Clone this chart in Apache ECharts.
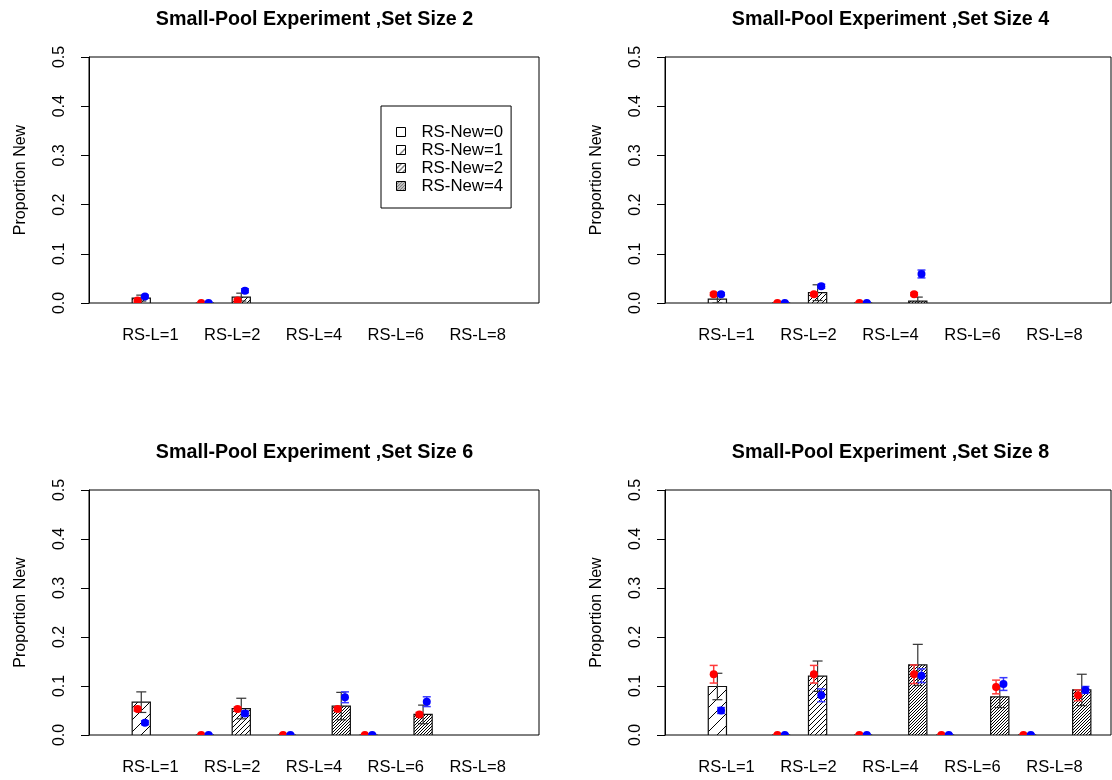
<!DOCTYPE html>
<html><head><meta charset="utf-8">
<script src="https://cdn.jsdelivr.net/npm/echarts@6/dist/echarts.min.js"></script>
<style>html,body{margin:0;padding:0;background:#fff}#c{width:1112px;height:780px}</style>
</head><body><div id="c"></div><script>
// ---------- data ----------
const categories = ['RS-L=1', 'RS-L=2', 'RS-L=4', 'RS-L=6', 'RS-L=8'];
const newLevels = ['RS-New=0', 'RS-New=1', 'RS-New=2', 'RS-New=4'];
const setSizes = [2, 4, 6, 8];
const yTicks = [0, 0.1, 0.2, 0.3, 0.4, 0.5];

// Set size 2  (lag = RS-L category index, 1-based; nw = RS-New level index)
const lag2 = [1, 2, 2];
const nw2 = [1, 0, 2];
const bar2 = [0.010, 0, 0.012];
const barErr2 = [0.006, 0, 0.008];
const red2 = [0.005, 0, 0.005];
const redErr2 = [0.003, 0.002, 0.003];
const blue2 = [0.013, 0, 0.025];
const blueErr2 = [0.003, 0.002, 0.004];

// Set size 4
const lag4 = [1, 2, 2, 3, 3];
const nw4 = [1, 0, 2, 0, 3];
const bar4 = [0.008, 0, 0.021, 0, 0.004];
const barErr4 = [0.008, 0, 0.016, 0, 0.008];
const red4 = [0.018, 0, 0.018, 0, 0.018];
const redErr4 = [0.003, 0.002, 0.003, 0.002, 0.003];
const blue4 = [0.018, 0, 0.034, 0, 0.059];
const blueErr4 = [0.003, 0.002, 0.004, 0.002, 0.008];

// Set size 6
const lag6 = [1, 2, 2, 3, 3, 4, 4];
const nw6 = [1, 0, 2, 0, 3, 0, 3];
const bar6 = [0.067, 0, 0.054, 0, 0.059, 0, 0.042];
const barErr6 = [0.021, 0, 0.021, 0, 0.028, 0, 0.019];
const red6 = [0.053, 0, 0.053, 0, 0.053, 0, 0.042];
const redErr6 = [0.004, 0.002, 0.004, 0.002, 0.004, 0.002, 0.004];
const blue6 = [0.025, 0, 0.044, 0, 0.077, 0, 0.068];
const blueErr6 = [0.004, 0.002, 0.005, 0.002, 0.011, 0.002, 0.010];

// Set size 8
const lag8 = [1, 2, 2, 3, 3, 4, 4, 5, 5];
const nw8 = [1, 0, 2, 0, 3, 0, 3, 0, 3];
const bar8 = [0.099, 0, 0.120, 0, 0.143, 0, 0.078, 0, 0.092];
const barErr8 = [0.027, 0, 0.031, 0, 0.042, 0, 0.022, 0, 0.032];
const red8 = [0.124, 0, 0.124, 0, 0.124, 0, 0.098, 0, 0.081];
const redErr8 = [0.018, 0.002, 0.018, 0.002, 0.019, 0.002, 0.014, 0.002, 0.011];
const blue8 = [0.050, 0, 0.081, 0, 0.121, 0, 0.104, 0, 0.092];
const blueErr8 = [0.006, 0.002, 0.013, 0.002, 0.014, 0.002, 0.013, 0.002, 0.007];

const panels = [
  {lag: lag2, nw: nw2, bar: bar2, barErr: barErr2, red: red2, redErr: redErr2, blue: blue2, blueErr: blueErr2},
  {lag: lag4, nw: nw4, bar: bar4, barErr: barErr4, red: red4, redErr: redErr4, blue: blue4, blueErr: blueErr4},
  {lag: lag6, nw: nw6, bar: bar6, barErr: barErr6, red: red6, redErr: redErr6, blue: blue6, blueErr: blueErr6},
  {lag: lag8, nw: nw8, bar: bar8, barErr: barErr8, red: red8, redErr: redErr8, blue: blue8, blueErr: blueErr8}
];

// ---------- layout / style ----------
const FONT = '"Liberation Sans", Arial, Helvetica, sans-serif';
const levelOffset = [-1/3, -1/9, 1/9, 1/3];   // position of each RS-New level within a group
const BAR_W = 2/9;
const PT_OFF = 0.045;
const hatchPeriod = [0, 12, 5, 3];
const grids = [
  {left: 89, top: 57, width: 450, height: 246, xMax: 5.75, tx: 314.5, ty: 10},
  {left: 665, top: 57, width: 446, height: 246, xMax: 5.69, tx: 890.5, ty: 10},
  {left: 89, top: 490, width: 450, height: 245, xMax: 5.75, tx: 314.5, ty: 443},
  {left: 665, top: 490, width: 446, height: 245, xMax: 5.69, tx: 890.5, ty: 443}
];

function hatch(period) {
  if (!period) return '#ffffff';
  const c = document.createElement('canvas');
  c.width = period; c.height = period;
  const g = c.getContext('2d');
  g.fillStyle = '#fff'; g.fillRect(0, 0, period, period);
  g.strokeStyle = '#000'; g.lineWidth = 1;
  g.beginPath();
  g.moveTo(-1, period + 1); g.lineTo(period + 1, -1);
  g.moveTo(-1, 1); g.lineTo(1, -1);
  g.moveTo(period - 1, period + 1); g.lineTo(period + 1, period - 1);
  g.stroke();
  return {image: c, repeat: 'repeat'};
}
const fills = hatchPeriod.map(hatch);

function barRender(fill) {
  return function (params, api) {
    const x = api.value(0), y = api.value(1);
    const a = api.coord([x - BAR_W / 2, y]);
    const b = api.coord([x + BAR_W / 2, 0]);
    return {type: 'rect', shape: {x: a[0], y: a[1], width: b[0] - a[0], height: b[1] - a[1]},
      style: {fill: fill, stroke: '#111', lineWidth: 1.2}};
  };
}
function errRender(lineColor, dotColor, capPx, lw, dotR) {
  return function (params, api) {
    const x = api.value(0), y = api.value(1), e = api.value(2);
    const top = api.coord([x, y + e]);
    const bot = api.coord([x, y - e]);
    const mid = api.coord([x, y]);
    const children = [
      {type: 'line', shape: {x1: top[0], y1: top[1], x2: bot[0], y2: bot[1]}, style: {stroke: lineColor, lineWidth: lw}},
      {type: 'line', shape: {x1: top[0] - capPx, y1: top[1], x2: top[0] + capPx, y2: top[1]}, style: {stroke: lineColor, lineWidth: lw}},
      {type: 'line', shape: {x1: bot[0] - capPx, y1: bot[1], x2: bot[0] + capPx, y2: bot[1]}, style: {stroke: lineColor, lineWidth: lw}}
    ];
    if (dotR) children.push({type: 'circle', shape: {cx: mid[0], cy: mid[1], r: dotR}, style: {fill: dotColor}});
    return {type: 'group', children: children};
  };
}

const option = {
  animation: false,
  backgroundColor: '#fff',
  title: setSizes.map((s, i) => ({
    text: 'Small-Pool Experiment ,Set Size ' + s, left: grids[i].tx, top: grids[i].ty, padding: 0,
    textAlign: 'center', textStyle: {fontFamily: FONT, fontSize: 19.7, fontWeight: 'bold', color: '#000'}
  })),
  legend: {
    left: 381, top: 106, orient: 'vertical', padding: [17, 8, 13, 15], itemGap: 0,
    itemWidth: 9, itemHeight: 9, borderColor: '#000', borderWidth: 1, borderRadius: 0,
    selectedMode: false,
    textStyle: {fontFamily: FONT, fontSize: 16.8, color: '#000', lineHeight: 18, padding: [0, 0, 0, 11]},
    data: newLevels.map((n, i) => ({name: n, icon: 'rect', itemStyle: {color: fills[i], borderColor: '#000', borderWidth: 1}}))
  },
  grid: grids.map(g => ({left: g.left, top: g.top, width: g.width, height: g.height, show: true,
    borderColor: '#000', borderWidth: 1, backgroundColor: 'transparent'})),
  xAxis: grids.map((g, i) => ({
    type: 'value', gridIndex: i, min: 0.25, max: g.xMax,
    axisLine: {show: false}, axisTick: {show: false}, splitLine: {show: false},
    axisLabel: {customValues: categories.map((c, k) => k + 1), formatter: v => categories[Math.round(v) - 1],
      fontFamily: FONT, fontSize: 16.5, color: '#000', margin: 24}
  })),
  yAxis: grids.map((g, i) => ({
    type: 'value', gridIndex: i, min: yTicks[0], max: yTicks[yTicks.length - 1], interval: 0.1,
    name: 'Proportion New', nameLocation: 'middle', nameGap: 60,
    nameTextStyle: {fontFamily: FONT, fontSize: 16, color: '#000'},
    axisLine: {show: true, lineStyle: {color: '#000', width: 1}},
    axisTick: {show: true, length: 8, lineStyle: {color: '#000'}},
    splitLine: {show: false},
    axisLabel: {rotate: 90, formatter: v => v.toFixed(1), fontFamily: FONT, fontSize: 16, color: '#000', margin: 21}
  })),
  series: []
};

panels.forEach((p, i) => {
  const pos = p.lag.map((l, k) => l + levelOffset[p.nw[k]]);
  newLevels.forEach((name, L) => {
    option.series.push({
      type: 'custom', name: name, xAxisIndex: i, yAxisIndex: i, clip: true,
      itemStyle: {color: '#000'},
      renderItem: barRender(fills[L]),
      data: pos.map((x, k) => [x, p.bar[k]]).filter((d, k) => p.nw[k] === L)
    });
  });
  option.series.push({
    type: 'custom', name: 'mean', xAxisIndex: i, yAxisIndex: i, clip: true,
    renderItem: errRender('#333', '#333', 5, 1.2, 0),
    data: pos.map((x, k) => [x, p.bar[k], p.barErr[k]])
  });
  option.series.push({
    type: 'custom', name: 'red', xAxisIndex: i, yAxisIndex: i, clip: true,
    renderItem: errRender('#ff3a3a', '#ff0000', 4, 1.5, 4),
    data: pos.map((x, k) => [x - PT_OFF, p.red[k], p.redErr[k]])
  });
  option.series.push({
    type: 'custom', name: 'blue', xAxisIndex: i, yAxisIndex: i, clip: true,
    renderItem: errRender('#3a3aff', '#0000ff', 4, 1.5, 4),
    data: pos.map((x, k) => [x + PT_OFF, p.blue[k], p.blueErr[k]])
  });
});

const chart = echarts.init(document.getElementById('c'), null, {renderer: 'canvas'});
chart.setOption(option);
</script></body></html>
